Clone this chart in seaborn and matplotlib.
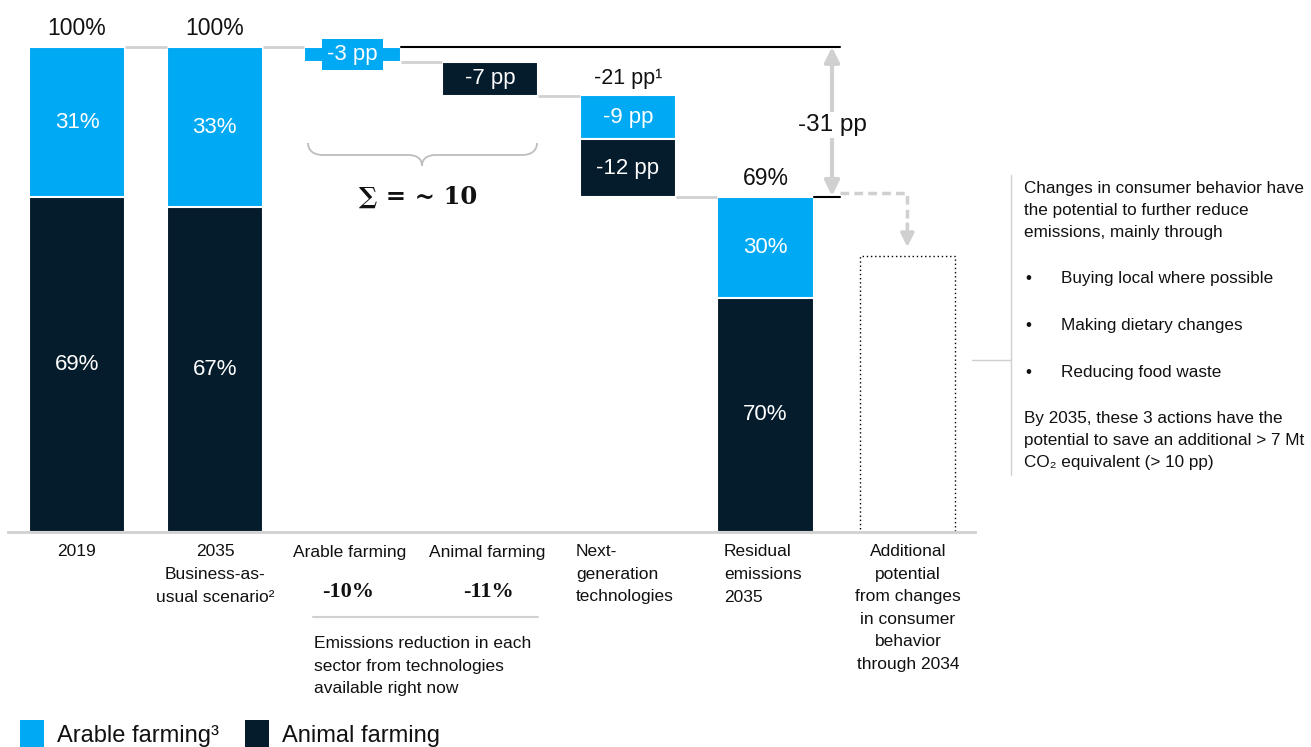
import numpy as np
import pandas as pd
import matplotlib
matplotlib.use('Agg')
import matplotlib.pyplot as plt
from matplotlib.patches import Rectangle, PathPatch
from matplotlib.path import Path
from matplotlib.lines import Line2D
import seaborn as sns

# ---- data ----
columns = ['2019', '2035 BAU', 'Arable farming', 'Animal farming',
           'Next-gen', 'Residual 2035', 'Consumer behavior']
stack_cols = ['2019', '2035 BAU', 'Residual 2035']
stack_total = [100, 100, 69]
arable_share = [31, 33, 30]
animal_share = [69, 67, 70]

step_cols = ['Arable farming', 'Animal farming', 'Next-gen', 'Next-gen']
step_sector = ['arable', 'animal', 'arable', 'animal']
step_pp = [-3, -7, -9, -12]

nextgen_total = -21
total_drop = -31
consumer_level = 57
sector_reduction = ['-10%', '-11%']

x_labels = [
    ['2019'],
    ['2035', 'Business-as-', 'usual scenario²'],
    ['Arable farming'],
    ['Animal farming'],
    ['Next-', 'generation', 'technologies'],
    ['Residual', 'emissions', '2035'],
    ['Additional', 'potential', 'from changes', 'in consumer', 'behavior', 'through 2034'],
]
side_intro = ['Changes in consumer behavior have', 'the potential to further reduce',
              'emissions, mainly through']
side_bullets = ['Buying local where possible', 'Making dietary changes', 'Reducing food waste']
side_outro = ['By 2035, these 3 actions have the', 'potential to save an additional > 7 Mt',
              'CO₂ equivalent (> 10 pp)']

ARABLE = '#00A9F4'
ANIMAL = '#051C2C'
GRAY = '#D0D0D0'
TXT = '#111111'

W, H = 1311, 747
X0, XS, YS, BASE = 77, 137.7, 4.85, 532


def dx(p):
    return (p - X0) / XS


def dy(p):
    return (BASE - p) / YS


def fx(p):
    return p / W


def fy(p):
    return 1 - p / H


sns.set_theme(style='white')
plt.rcParams['font.family'] = ['Liberation Sans', 'DejaVu Sans']
plt.rcParams['text.color'] = TXT
SERIF = ['Liberation Serif', 'DejaVu Serif']

fig = plt.figure(figsize=(W / 100, H / 100), dpi=100)
ax = fig.add_axes([fx(8), 1 - BASE / H, (975 - 8) / W, BASE / H])

# stacked columns: full total in arable colour, animal part over it
animal_h = [t * s / 100 for t, s in zip(stack_total, animal_share)]
sns.barplot(x=stack_cols, y=stack_total, order=columns, color=ARABLE, saturation=1,
            width=0.7, edgecolor='white', linewidth=1.5, ax=ax)
sns.barplot(x=stack_cols, y=animal_h, order=columns, color=ANIMAL, saturation=1,
            width=0.7, edgecolor='white', linewidth=1.5, ax=ax)

for c, t, a, s_ar, s_an in zip(stack_cols, stack_total, animal_h, arable_share, animal_share):
    i = columns.index(c)
    ax.text(i, a / 2, f'{s_an}%', color='white', ha='center', va='center', fontsize=16)
    ax.text(i, (a + t) / 2, f'{s_ar}%', color='white', ha='center', va='center', fontsize=16)
    ax.text(i, t + 3.9, f'{t}%', ha='center', va='center', fontsize=16.5)

# floating steps
tops = 100 + np.concatenate([[0], np.cumsum(step_pp)[:-1]])
for k, (c, sec, pp, top) in enumerate(zip(step_cols, step_sector, step_pp, tops)):
    i = columns.index(c)
    col = ARABLE if sec == 'arable' else ANIMAL
    ax.bar(i, -pp, bottom=top + pp, width=0.7, color=col, edgecolor='white', linewidth=1.5)
    kw = dict(color='white', ha='center', va='center', fontsize=16)
    if -pp < 5:
        kw['bbox'] = dict(boxstyle='square,pad=0.22', fc=col, ec='none')
    ax.text(i, top + pp / 2, f'{pp} pp', **kw)

ng = columns.index('Next-gen')
ax.text(ng, 90 + 3.6, f'{nextgen_total} pp¹', ha='center', va='center', fontsize=15.5)

# connectors
levels = [100, 100, 97, 90, 69]
pairs = [(0, 1), (1, 2), (2, 3), (3, 4), (4, 5)]
for (a, b), lv in zip(pairs, levels):
    ax.plot([a + 0.35, b - 0.35], [lv, lv], color=GRAY, lw=2, solid_capstyle='butt')

res = columns.index('Residual 2035')
ax.plot([2.35, dx(840)], [100, 100], color='black', lw=1.5)
ax.plot([res + 0.35, dx(840)], [69, 69], color='black', lw=1.5)
ax.annotate('', xy=(dx(832), 100), xytext=(dx(832), 69.3),
            arrowprops=dict(arrowstyle='<|-|>', color=GRAY, lw=3, mutation_scale=22,
                            shrinkA=0, shrinkB=0))
ax.text(dx(832), dy(125), f'{total_drop} pp', ha='center', va='center', fontsize=17.5,
        bbox=dict(boxstyle='square,pad=0.1', fc='white', ec='none'))

# dashed arrow toward consumer box
cb = 6.03
ax.plot([dx(840), cb, cb], [dy(193), dy(193), dy(226)], color=GRAY, lw=2.5, ls=(0, (2.5, 1.5)))
ax.annotate('', xy=(cb, dy(247)), xytext=(cb, dy(224)),
            arrowprops=dict(arrowstyle='-|>', color=GRAY, lw=2.5, mutation_scale=20,
                            shrinkA=0, shrinkB=0))
ax.bar(cb, consumer_level, width=0.69, fill=False, edgecolor='black', linewidth=1,
       linestyle=(0, (1, 2)))

# curly brace under the two sector steps
bp = [(308, 143), (308, 150), (313, 155), (323, 155), (408, 155),
      (416, 155), (422, 158), (422, 166), (422, 158), (428, 155), (436, 155),
      (522, 155), (532, 155), (537, 150), (537, 143)]
codes = [Path.MOVETO, Path.CURVE4, Path.CURVE4, Path.CURVE4, Path.LINETO,
         Path.CURVE4, Path.CURVE4, Path.CURVE4, Path.CURVE4, Path.CURVE4, Path.CURVE4,
         Path.LINETO, Path.CURVE4, Path.CURVE4, Path.CURVE4]
ax.add_patch(PathPatch(Path([(dx(a), dy(b)) for a, b in bp], codes), fc='none',
                       ec='#BDBDBD', lw=1.3))
ax.text(dx(418), dy(197), '∑ = ~ 10', ha='center', va='center', fontsize=17.5,
        fontweight='bold', family=['DejaVu Serif'])

ax.set_xlim(dx(8), dx(975))
ax.set_ylim(0, BASE / YS)
ax.set_xticks([])
ax.set_yticks([])
ax.set_xlabel('')
ax.set_ylabel('')
for s in ['top', 'right', 'left']:
    ax.spines[s].set_visible(False)
ax.spines['bottom'].set_color(GRAY)
ax.spines['bottom'].set_linewidth(2)

# category labels under the axis
centers = [77, 215, 350, 487, 576, 724, 908]
aligns = ['center', 'center', 'center', 'center', 'left', 'left', 'center']
for lines, xc, al in zip(x_labels, centers, aligns):
    for j, t in enumerate(lines):
        fig.text(fx(xc), fy(552 + 22.5 * j), t, ha=al, va='center', fontsize=12.5)

for t, xc in zip(sector_reduction, [348, 489]):
    fig.text(fx(xc), fy(592), t, ha='center', va='center', fontsize=16,
             fontweight='bold', family=SERIF)
fig.add_artist(Line2D([fx(313), fx(538)], [fy(617), fy(617)], color=GRAY, lw=1.5))
for j, t in enumerate(['Emissions reduction in each', 'sector from technologies',
                       'available right now']):
    fig.text(fx(314), fy(644 + 22 * j), t, ha='left', va='center', fontsize=12.5)

# side note
fig.add_artist(Line2D([fx(1011), fx(1011)], [fy(175), fy(475)], color=GRAY, lw=1))
fig.add_artist(Line2D([fx(972), fx(1011)], [fy(360), fy(360)], color=GRAY, lw=1))
for j, t in enumerate(side_intro):
    fig.text(fx(1024), fy(188 + 22 * j), t, ha='left', va='center', fontsize=12.3)
for j, t in enumerate(side_bullets):
    fig.text(fx(1025), fy(279 + 46.5 * j), '•', ha='left', va='center', fontsize=12.3)
    fig.text(fx(1061), fy(279 + 46.5 * j), t, ha='left', va='center', fontsize=12.3)
for j, t in enumerate(side_outro):
    fig.text(fx(1024), fy(418 + 22 * j), t, ha='left', va='center', fontsize=12.3)

# legend
for x0, col, lab in [(20, ARABLE, 'Arable farming³'), (245, ANIMAL, 'Animal farming')]:
    fig.add_artist(Rectangle((fx(x0), fy(747)), 24 / W, 27 / H, transform=fig.transFigure,
                             fc=col, ec='none'))
    fig.text(fx(x0 + 37), fy(736), lab, ha='left', va='center', fontsize=17)

fig.savefig('out.png', dpi=100)
